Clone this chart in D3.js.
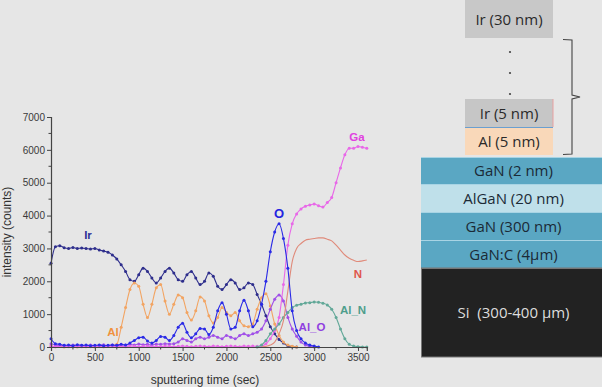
<!DOCTYPE html>
<html>
<head>
<meta charset="utf-8">
<script src="https://d3js.org/d3.v7.min.js"></script>
<style>
  body { margin: 0; background: #e6e6e6; }
  svg { display: block; }
</style>
</head>
<body>
<div id="chart"></div>
<script>
// sputtering time grid (sec), one value every 50 s
var time = [0,50,100,150,200,250,300,350,400,450,500,550,600,650,700,750,800,850,900,950,
  1000,1050,1100,1150,1200,1250,1300,1350,1400,1450,1500,1550,1600,1650,1700,1750,1800,1850,1900,1950,
  2000,2050,2100,2150,2200,2250,2300,2350,2400,2450,2500,2550,2600,2650,2700,2750,2800,2850,2900,2950,
  3000,3050,3100,3150,3200,3250,3300,3350,3400,3450,3500,3550,3600];

// intensity (counts) per series, null = not measured
var ir = [2550,3050,3080,3020,3000,3030,3000,3010,3000,2980,3000,2950,2920,2880,2800,2680,2500,2300,2050,2000,
  2200,2400,2300,2100,1950,2100,2300,2400,2250,2050,2000,2200,2300,2100,1900,2000,2250,2150,1850,1750,
  1900,2050,1950,1750,1800,1950,1900,1600,1300,950,620,400,230,120,40,10,0];
var al = [30,10,30,0,20,10,0,20,10,30,0,20,10,30,40,80,600,1200,1750,1950,
  1850,1300,900,1300,1800,1900,1400,1000,1300,1580,1500,1050,820,1100,1520,1400,950,730,900,1200,
  1050,950,1050,800,650,620,700,1150,1500,1620,1250,700,350,150,60,20,0];
var oxy = [250,100,80,50,60,40,70,50,60,40,50,60,40,50,60,50,80,60,120,200,
  280,300,180,120,200,320,300,200,350,600,720,450,280,400,560,550,380,600,1100,1350,
  1000,550,600,1100,1420,1100,620,800,1300,2000,2900,3500,3750,3300,2400,1100,500,250,120,60,
  30,0];
var alO = [100,60,40,50,30,60,40,50,30,60,40,50,70,40,60,50,70,60,80,60,
  90,70,80,60,90,80,100,90,100,150,250,200,150,250,300,250,300,350,300,250,
  350,300,250,350,400,350,400,450,550,800,1150,1450,1580,1400,900,550,330,150,60,20,
  0];
var ga = [20,10,30,20,10,20,30,10,20,10,30,20,10,20,30,10,20,10,30,20,
  10,20,30,10,20,10,30,20,10,20,30,20,10,20,30,20,10,30,20,10,
  20,30,20,10,30,20,30,20,30,100,250,500,900,1900,3100,3750,4050,4200,4280,4320,
  4350,4300,4260,4400,4550,5000,5450,5850,6050,6050,6100,6080,6050];
var nit = [null,null,null,null,null,null,null,null,null,null,null,null,null,null,null,null,null,null,null,null,
  null,null,null,null,null,null,null,null,null,null,null,null,null,null,null,null,null,null,null,null,
  null,null,null,null,null,null,null,null,0,20,60,150,400,800,1700,2600,3000,3150,3250,3280,
  3300,3320,3320,3280,3230,3100,2950,2800,2700,2640,2600,2620,2650];
var alN = [null,null,null,null,null,null,null,null,null,null,null,null,null,null,null,null,null,null,null,null,
  null,null,null,null,null,null,null,null,null,null,null,null,null,null,null,null,null,null,null,null,
  null,null,null,null,null,null,null,0,60,200,400,550,700,900,1050,1200,1270,1300,1340,1350,
  1370,1360,1330,1280,1150,900,550,250,80,30,10,0,0];

var xTicks = [0,500,1000,1500,2000,2500,3000,3500];
var yTicks = [0,1000,2000,3000,4000,5000,6000,7000];

var series = [
  {name: "Ir",   values: ir,   color: "#2e2e8c", dots: true},
  {name: "Al",   values: al,   color: "#f2a462", dots: true},
  {name: "Al_O", values: alO,  color: "#a050e8", dots: true},
  {name: "Ga",   values: ga,   color: "#e868e8", dots: true},
  {name: "Al_N", values: alN,  color: "#62a898", dots: true},
  {name: "N",    values: nit,  color: "#e08a7a", dots: false},
  {name: "O",    values: oxy,  color: "#2a2ae6", dots: true}
];

var layers = ["GaN (2 nm)", "AlGaN (20 nm)", "GaN (300 nm)", "GaN:C (4\u03bcm)", "Si\u00a0 (300-400 \u03bcm)"];

var W = 602, H = 387;
var svg = d3.select("#chart").append("svg").attr("width", W).attr("height", H);
svg.append("rect").attr("width", W).attr("height", H).attr("fill", "#e6e6e6");

var x = d3.scaleLinear().domain([0, 3600]).range([51, 366.8]);
var y = d3.scaleLinear().domain([0, 7000]).range([347, 117]);

// data
var plot = svg.append("g");
series.forEach(function (s) {
  var pts = time.map(function (t, i) { return [t, s.values[i]]; })
    .filter(function (d) { return d[1] != null; });
  plot.append("path")
    .datum(pts)
    .attr("fill", "none")
    .attr("stroke", s.color)
    .attr("stroke-width", 1.1)
    .attr("d", d3.line().curve(d3.curveMonotoneX).x(function (d) { return x(d[0]); }).y(function (d) { return y(d[1]); }));
  if (s.dots) {
    plot.selectAll(null).data(pts).enter().append("circle")
      .attr("cx", function (d) { return x(d[0]); })
      .attr("cy", function (d) { return y(d[1]); })
      .attr("r", 1.5)
      .attr("fill", s.color);
  }
});

// axes
var xAxis = svg.append("g").attr("transform", "translate(0,347)")
  .call(d3.axisBottom(x).tickValues(xTicks).tickSize(4).tickPadding(3).tickFormat(d3.format("d")));
xAxis.append("g").selectAll("line").data(d3.range(250, 3600, 500)).enter().append("line")
  .attr("x1", function (d) { return x(d); }).attr("x2", function (d) { return x(d); })
  .attr("y1", 0).attr("y2", 2.5).attr("stroke", "#444");
var yAxis = svg.append("g").attr("transform", "translate(51,0)")
  .call(d3.axisLeft(y).tickValues(yTicks).tickSize(4).tickPadding(2).tickFormat(d3.format("d")));
yAxis.append("g").selectAll("line").data(d3.range(500, 7000, 1000)).enter().append("line")
  .attr("y1", function (d) { return y(d); }).attr("y2", function (d) { return y(d); })
  .attr("x1", 0).attr("x2", -2.5).attr("stroke", "#444");
[xAxis, yAxis].forEach(function (a) {
  a.select(".domain").attr("stroke", "#444").attr("stroke-width", 1.2);
  a.selectAll(".tick line").attr("stroke", "#444");
  a.selectAll("text").attr("fill", "#3a3a3a").style("font-family", "Liberation Sans, Arial, sans-serif").style("font-size", "10px");
});

svg.append("text").attr("x", 205).attr("y", 384).attr("text-anchor", "middle")
  .style("font-family", "Liberation Sans, Arial, sans-serif").style("font-size", "12px").attr("fill", "#333")
  .text("sputtering time (sec)");
svg.append("text").attr("transform", "translate(11,232) rotate(-90)").attr("text-anchor", "middle")
  .style("font-family", "Liberation Sans, Arial, sans-serif").style("font-size", "12px").attr("fill", "#333")
  .text("intensity (counts)");

// series labels
var labels = [
  {t: "Ir", x: 88, y: 239, c: "#2e3196", s: 11.5},
  {t: "Al", x: 113, y: 336, c: "#f0913e", s: 11.5},
  {t: "O", x: 279, y: 218, c: "#2424e0", s: 13},
  {t: "Ga", x: 357, y: 141, c: "#e040e0", s: 11.5},
  {t: "N", x: 358, y: 278, c: "#e0564c", s: 11.5},
  {t: "Al_N", x: 353, y: 314, c: "#4e9e8c", s: 11.5},
  {t: "Al_O", x: 312, y: 331, c: "#9040e0", s: 11.5}
];
svg.selectAll(null).data(labels).enter().append("text")
  .attr("x", function (d) { return d.x; }).attr("y", function (d) { return d.y; })
  .attr("text-anchor", "middle").attr("fill", function (d) { return d.c; })
  .style("font-family", "Liberation Sans, Arial, sans-serif").style("font-weight", "bold")
  .style("font-size", function (d) { return d.s + "px"; })
  .text(function (d) { return d.t; });

// layer stack diagram
var dg = svg.append("g").style("font-family", "Open Sans, Noto Sans, sans-serif").style("font-size", "15px");
function box(x0, y0, w, h, fill, label, tc) {
  dg.append("rect").attr("x", x0).attr("y", y0).attr("width", w).attr("height", h).attr("fill", fill);
  dg.append("text").attr("x", x0 + w / 2 + (x0 > 450 ? 0 : 2)).attr("y", y0 + h / 2 + 5.5)
    .attr("text-anchor", "middle").attr("fill", tc).text(label);
}
box(465, 0, 88, 38, "#c8c8c8", "Ir (30 nm)", "#2a2a2a");
box(465, 99, 88, 28, "#c6c6c6", "Ir (5 nm)", "#2a2a2a");
box(465, 128, 88, 27, "#f9d8b9", "Al (5 nm)", "#2a2a2a");
dg.append("line").attr("x1", 553).attr("x2", 553).attr("y1", 99).attr("y2", 127).attr("stroke", "#e8a0a0");
dg.append("line").attr("x1", 465).attr("x2", 553).attr("y1", 127.5).attr("y2", 127.5).attr("stroke", "#6a9fd0");
[52, 73, 94].forEach(function (cy) {
  dg.append("circle").attr("cx", 510).attr("cy", cy).attr("r", 1.1).attr("fill", "#444");
});
dg.append("path").attr("d", "M563,39.5 L572,40 L572,95 L580,97 L572,99 L572,154 L563,154.5")
  .attr("fill", "none").attr("stroke", "#444").attr("stroke-width", 1.1);

var lay = [[157, 27, "#5aa7c3"], [184, 28, "#bfe0ea"], [212, 28, "#5aa7c3"], [240, 28, "#5aa7c3"], [268, 89, "#222222"]];
layers.forEach(function (name, i) {
  var L = lay[i];
  box(421, L[0], 181, L[1], L[2], name, i === 4 ? "#dddddd" : "#1b2a36");
  dg.append("line").attr("x1", 421).attr("x2", 602).attr("y1", L[0] + 0.5).attr("y2", L[0] + 0.5)
    .attr("stroke", i === 4 ? "#777" : "#a8d4e4");
});
dg.append("rect").attr("x", 421.5).attr("y", 268).attr("width", 181).attr("height", 89)
  .attr("fill", "none").attr("stroke", "#777");
</script>
</body>
</html>
